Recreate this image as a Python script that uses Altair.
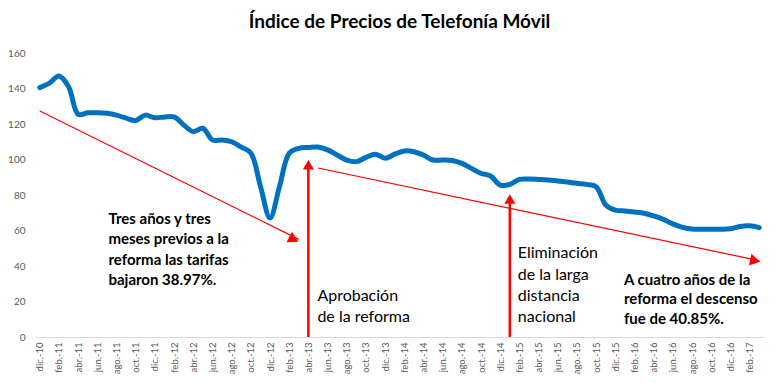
import altair as alt
import pandas as pd

# ---------------- data ----------------
months = [
    "dic.-10",
    "ene.-11", "feb.-11", "mar.-11", "abr.-11", "may.-11", "jun.-11",
    "jul.-11", "ago.-11", "sep.-11", "oct.-11", "nov.-11", "dic.-11",
    "ene.-12", "feb.-12", "mar.-12", "abr.-12", "may.-12", "jun.-12",
    "jul.-12", "ago.-12", "sep.-12", "oct.-12", "nov.-12", "dic.-12",
    "ene.-13", "feb.-13", "mar.-13", "abr.-13", "may.-13", "jun.-13",
    "jul.-13", "ago.-13", "sep.-13", "oct.-13", "nov.-13", "dic.-13",
    "ene.-14", "feb.-14", "mar.-14", "abr.-14", "may.-14", "jun.-14",
    "jul.-14", "ago.-14", "sep.-14", "oct.-14", "nov.-14", "dic.-14",
    "ene.-15", "feb.-15", "mar.-15", "abr.-15", "may.-15", "jun.-15",
    "jul.-15", "ago.-15", "sep.-15", "oct.-15", "nov.-15", "dic.-15",
    "ene.-16", "feb.-16", "mar.-16", "abr.-16", "may.-16", "jun.-16",
    "jul.-16", "ago.-16", "sep.-16", "oct.-16", "nov.-16", "dic.-16",
    "ene.-17", "feb.-17", "mar.-17",
]
values = [
    140.5,
    143.0, 147.0, 141.0, 125.5, 126.3, 126.3,
    126.0, 125.0, 123.3, 122.0, 125.0, 123.5,
    124.0, 124.0, 119.5, 115.7, 117.6, 111.0,
    111.0, 110.0, 107.0, 103.6, 85.0, 67.0,
    85.0, 103.5, 106.3, 106.8, 107.0, 105.4,
    102.5, 99.7, 98.8, 101.2, 103.0, 100.7,
    103.0, 104.8, 104.4, 102.5, 99.7, 99.7,
    99.4, 97.8, 95.0, 92.2, 90.7, 85.6,
    86.0, 88.8, 89.0, 88.8, 88.5, 87.9,
    87.3, 86.6, 86.0, 84.7, 74.4, 71.5,
    71.0, 70.4, 69.7, 68.2, 66.3, 63.7,
    61.8, 60.8, 60.7, 60.7, 60.7, 61.0,
    62.3, 62.7, 61.6,
]
axis_labels = months[::2]
y_ticks = [0, 20, 40, 60, 80, 100, 120, 140, 160]

title_text = "Índice de Precios de Telefonía Móvil"

# diagonal trend arrows (start, end)
diag_ids = ["antes", "antes", "despues", "despues"]
diag_months = ["dic.-10", "mar.-13", "may.-13", "mar.-17"]
diag_values = [127.3, 55.0, 95.2, 43.0]

# vertical event arrows
vert_ids = ["reforma", "reforma", "ld", "ld"]
vert_months = ["abr.-13", "abr.-13", "ene.-15", "ene.-15"]
vert_values = [0, 97.0, 0, 77.8]

# annotation texts
note1 = ["Tres años y tres", "meses previos a la", "reforma las tarifas", "bajaron 38.97%."]
note2 = ["Aprobación", "de la reforma"]
note3 = ["Eliminación", "de la larga", "distancia", "nacional"]
note4 = ["A cuatro años de la", "reforma el descenso", "fue de 40.85%."]

# ---------------- chart ----------------
FONT = "Lato"
RED = "#FF0000"
BLUE = "#0070C0"

xscale = alt.Scale(domain=months, paddingOuter=0.5)
yscale = alt.Scale(domain=[0, 160], nice=False)

x_axis = alt.Axis(
    values=axis_labels, labelAngle=270, labelFontSize=9.5, labelColor="#595959",
    labelFont=FONT, ticks=False, domainColor="#d9d9d9", domainWidth=1,
    title=None, grid=False, labelPadding=5, labelOverlap=False,
)
y_axis = alt.Axis(
    values=y_ticks, tickCount=9, labelFontSize=10, labelColor="#595959",
    labelFont=FONT, ticks=False, domain=False, grid=False, title=None,
    labelPadding=10, labelOverlap=False, labelSeparation=0,
)

def X():
    return alt.X("m:O", scale=xscale, sort=None, axis=x_axis)

def Y():
    return alt.Y("v:Q", scale=yscale, axis=y_axis)

df = pd.DataFrame({"m": months, "v": values})

line = alt.Chart(df).mark_line(
    color=BLUE, strokeWidth=5, interpolate="catmull-rom", strokeCap="round"
).encode(x=X(), y=Y())

diag_df = pd.DataFrame({"id": diag_ids, "m": diag_months, "v": diag_values})
diag = alt.Chart(diag_df).mark_line(color=RED, strokeWidth=1.2).encode(
    x=X(), y=Y(), detail="id:N"
)

vert_df = pd.DataFrame({"id": vert_ids, "m": vert_months, "v": vert_values})
vert = alt.Chart(vert_df).mark_line(color=RED, strokeWidth=2.5).encode(
    x=X(), y=Y(), detail="id:N"
)

def head(month, value, angle, size, xoff=0):
    d = pd.DataFrame({"m": [month], "v": [value]})
    return alt.Chart(d).mark_point(
        shape="triangle-up", filled=True, color=RED, opacity=1,
        size=size, angle=angle, xOffset=xoff,
    ).encode(x=X(), y=Y())

heads = [
    head(diag_months[1], diag_values[1], 117, 140, -5),
    head(diag_months[3], diag_values[3], 102, 140, -4),
    head(vert_months[1], vert_values[1], 0, 120),
    head(vert_months[3], vert_values[3], 0, 120),
]

def note(lines, month, value, dx, size, weight, lh):
    d = pd.DataFrame({"m": [month], "v": [value]})
    return alt.Chart(d).mark_text(
        text=lines, align="left", baseline="alphabetic", dx=dx,
        font=FONT, fontSize=size, fontWeight=weight, color="#000000",
        lineHeight=lh,
    ).encode(x=X(), y=Y())

notes = [
    note(note1, "jul.-11", 63.7, 1.5, 15, "bold", 20.5),
    note(note2, "abr.-13", 20.4, 9, 16, "normal", 21),
    note(note3, "ene.-15", 44.3, 8, 16, "normal", 21.2),
    note(note4, "ene.-16", 29.3, -1, 15, "bold", 19.3),
]

chart = alt.layer(line, diag, vert, *heads, *notes).properties(
    width=729,
    height=284,
    title=alt.TitleParams(
        title_text, font=FONT, fontSize=19, fontWeight="bold",
        color="#000000", anchor="middle", offset=16,
    ),
    autosize=alt.AutoSizeParams(type="none"),
    padding={"left": 27, "top": 45, "right": 9, "bottom": 38},
).configure_view(stroke=None).configure_axisY(labelOverlap=False)

chart.save("out.html", embed_options={"renderer": "svg", "actions": False})
